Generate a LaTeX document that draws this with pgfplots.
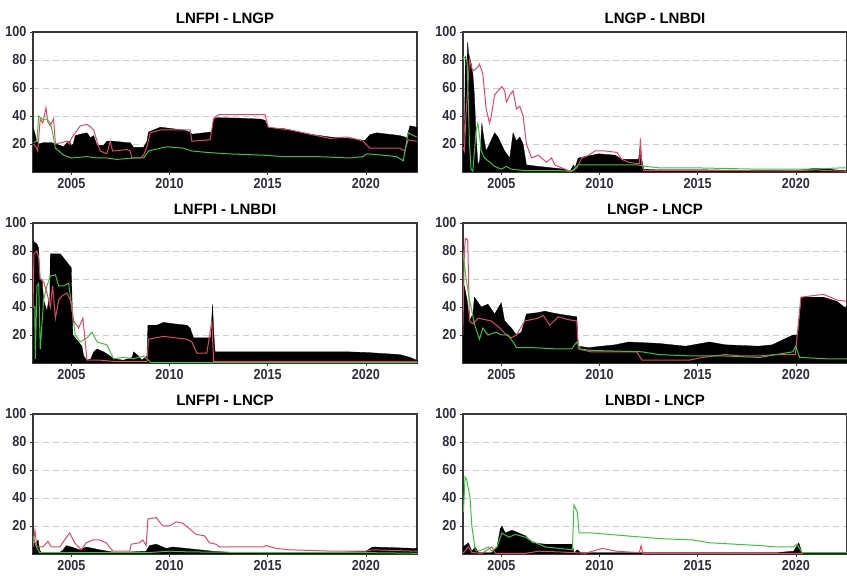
\documentclass[border=0pt]{standalone}
\usepackage{fontspec}
\setmainfont{Liberation Sans}
\newfontfamily\narrowfont[FakeStretch=0.87]{Liberation Sans}
\usepackage{pgfplots}
\pgfplotsset{compat=1.18}
\definecolor{myred}{RGB}{228,70,100}
\definecolor{mygreen}{RGB}{60,195,60}
\definecolor{ticktext}{RGB}{45,45,60}
\pgfplotsset{panel/.style={
  scale only axis, width=384pt, height=140pt,
  xmin=2003.05, xmax=2022.6, ymin=0, ymax=100,
  xtick={2005,2010,2015,2020}, ytick={20,40,60,80,100},
  ymajorgrids, grid style={dash pattern=on 6pt off 4pt, black!20, line width=0.9pt},
  axis line style={line width=1.2pt, black!78},
  tick style={black!78, line width=0.8pt},
  tick align=outside, major tick length=3pt, tick pos=left,
  /pgf/number format/1000 sep={},
  /pgf/number format/assume math mode=true,
  ticklabel style={font=\narrowfont\fontsize{14.5}{16}\selectfont\bfseries, text=ticktext},
  title style={font=\fontsize{15}{17}\selectfont\bfseries, yshift=-1.5pt},
  anchor=south west,
}}
\tikzset{blk/.style={fill=black, draw=black, line width=0.3pt},
         rl/.style={myred, line width=1pt},
         gl/.style={mygreen, line width=1pt}}
\begin{document}
\begin{tikzpicture}
\useasboundingbox (0,0) rectangle (847pt,576pt);
% ---------------- Panel 1
\begin{axis}[panel, at={(33pt,404pt)}, title={LNFPI - LNGP}]
\addplot[blk] coordinates {(2003.05,31)(2003.08,31)(2003.25,22)(2003.34,20)(2003.6,21)(2004.0,21)(2004.2,20)(2004.44,19)(2004.61,18)(2004.78,21)(2004.9,22)(2005.0,19)(2005.1,20)(2005.2,26)(2005.46,27)(2005.8,28)(2005.97,24.5)(2006.14,26)(2006.31,19)(2006.64,19)(2006.81,22)(2007.15,22)(2007.83,21)(2008.0,21)(2008.17,17.6)(2008.68,17.6)(2008.85,22)(2008.93,28.5)(2009.53,32)(2010.12,31)(2010.71,30)(2011.05,28.5)(2011.14,27)(2012.07,28.5)(2012.15,28.5)(2012.24,37.8)(2012.41,38.8)(2013.5,38.5)(2014.61,37.8)(2014.86,37)(2015.03,31.5)(2015.8,31)(2016.14,30)(2017.15,27)(2018.17,25)(2019.19,24)(2019.95,22.5)(2020.2,26.6)(2020.54,28)(2021.73,26)(2021.98,25)(2022.07,24)(2022.24,33)(2022.58,32)(2022.6,32)} \closedcycle;
\addplot[rl] coordinates {(2003.08,20)(2003.2,18)(2003.29,15)(2003.42,38)(2003.55,35)(2003.71,46)(2003.8,36)(2003.93,33)(2004.1,38)(2004.19,20)(2004.5,21)(2004.78,22)(2004.9,20)(2005.0,24)(2005.2,28)(2005.46,33)(2005.8,34)(2006.0,32)(2006.14,30)(2006.31,22)(2006.47,15)(2006.81,13)(2006.98,22)(2007.1,15)(2007.83,16)(2008.0,15)(2008.08,10)(2008.51,10)(2008.68,12)(2008.85,18)(2009.02,28)(2009.53,30)(2010.5,30)(2011.05,30)(2011.14,22)(2012.07,23)(2012.24,38)(2012.49,41)(2014.61,41)(2014.86,41)(2015.03,32)(2016.14,30)(2017.15,27)(2018.17,24)(2019.02,25)(2019.36,24)(2019.86,22)(2020.2,17)(2021.73,17)(2021.98,15)(2022.15,23)(2022.58,22)};
\addplot[gl] coordinates {(2003.08,21)(2003.25,22)(2003.34,40)(2003.59,37)(2003.76,38)(2003.93,35)(2004.02,30)(2004.19,17)(2004.61,12)(2005.0,10)(2005.8,11)(2006.31,10)(2006.81,10)(2007.32,9)(2008.17,10)(2008.68,10)(2008.93,15)(2009.53,17)(2009.86,18)(2010.71,17)(2011.14,15)(2011.9,14)(2012.92,13)(2014.78,12)(2015.8,11)(2017.49,11)(2019.19,10)(2019.86,11)(2020.03,13)(2020.88,12)(2021.56,11)(2021.9,8)(2022.15,28)(2022.58,25)};
\end{axis}
% ---------------- Panel 2
\begin{axis}[panel, at={(463pt,404pt)}, title={LNGP - LNBDI}]
\addplot[blk] coordinates {(2003.04,20)(2003.12,20)(2003.17,83)(2003.24,75)(2003.29,93)(2003.33,85)(2003.46,78)(2003.55,70)(2003.63,55)(2003.72,25)(2003.81,5)(2003.9,8)(2004.01,35)(2004.1,25)(2004.23,15)(2004.4,20)(2004.66,28)(2004.83,25)(2005.0,20)(2005.17,15)(2005.43,10)(2005.6,28)(2005.77,22)(2005.94,25)(2006.11,20)(2006.28,5)(2006.88,4)(2007.56,3)(2008.24,2)(2008.5,0.5)(2008.67,5)(2008.75,3)(2008.92,10)(2009.27,11)(2009.95,13)(2010.8,12)(2011.14,9)(2011.99,9)(2012.08,20)(2012.15,9)(2012.25,2)(2013.0,1.5)(2015.5,1.5)(2018.0,1.2)(2020.0,1)(2020.9,2.5)(2021.5,2.5)(2022.0,1.5)(2022.6,1)} \closedcycle;
\addplot[rl] coordinates {(2003.04,18)(2003.12,15)(2003.2,40)(2003.38,80)(2003.55,72)(2003.81,75)(2003.89,77)(2004.06,70)(2004.23,45)(2004.4,35)(2004.49,40)(2004.66,55)(2004.83,58)(2005.03,61)(2005.17,58)(2005.26,50)(2005.43,55)(2005.6,58)(2005.77,45)(2005.94,47)(2006.11,40)(2006.28,20)(2006.54,10)(2006.88,12)(2007.05,10)(2007.3,7)(2007.56,10)(2007.73,5)(2008.07,3)(2008.41,1)(2008.67,1)(2008.84,3)(2009.1,10)(2009.44,12)(2009.78,15)(2010.29,15)(2010.89,14)(2011.14,9)(2011.48,7)(2011.91,6)(2012.04,6)(2012.08,24)(2012.15,6)(2012.25,1)(2015,1)(2020,0.8)(2021,1.5)(2021.6,1)(2022.6,0.5)};
\addplot[gl] coordinates {(2003.04,80)(2003.09,82)(2003.26,80)(2003.38,20)(2003.46,2)(2003.55,0.5)(2003.72,30)(2003.81,35)(2003.98,15)(2004.15,10)(2004.32,8)(2004.66,4)(2005.0,2)(2005.26,4)(2005.51,2)(2006.19,1)(2007.9,1)(2008.58,0.5)(2008.92,5)(2011.99,5)(2012.34,4)(2013.02,3)(2014.73,3)(2018.14,2)(2019.85,2)(2020.7,2)(2022.41,3)(2022.6,3)};
\end{axis}
% ---------------- Panel 3
\begin{axis}[panel, at={(33pt,213pt)}, title={LNFPI - LNBDI}]
\addplot[blk] coordinates {(2003.05,87)(2003.25,85)(2003.34,82)(2003.39,60)(2003.51,60)(2003.59,45)(2003.76,37)(2003.85,45)(2003.9,35)(2003.93,78)(2004.44,78)(2004.61,75)(2004.78,72)(2005.0,68)(2005.08,20)(2005.37,15)(2005.54,12)(2005.63,5)(2005.8,2)(2006.0,3)(2006.14,8)(2006.31,10)(2006.64,8)(2006.98,5)(2007.15,3)(2007.66,2)(2008.1,4)(2008.17,8)(2008.42,5)(2008.59,2)(2008.85,5)(2008.9,27)(2009.36,27)(2009.69,29)(2010.2,28)(2010.88,27)(2011.05,25)(2011.22,18)(2011.98,18)(2012.1,18)(2012.19,42)(2012.26,20)(2012.32,8)(2019.02,8)(2020.03,7.5)(2021.73,6)(2022.24,4)(2022.58,2)(2022.6,2)} \closedcycle;
\addplot[gl] coordinates {(2003.05,40)(2003.14,40)(2003.17,3)(2003.25,55)(2003.34,57)(2003.42,10)(2003.59,45)(2003.76,55)(2003.93,62)(2004.19,63)(2004.36,55)(2004.61,55)(2004.86,57)(2005.03,40)(2005.2,20)(2005.46,15)(2005.8,18)(2006.05,22)(2006.31,15)(2006.81,13)(2007.15,3)(2007.66,4)(2008.17,3)(2008.68,5)(2008.93,2)(2009.02,0.5)(2022.6,0.5)};
\addplot[rl] coordinates {(2003.05,40)(2003.1,78)(2003.25,80)(2003.34,75)(2003.42,60)(2003.59,58)(2003.76,50)(2003.93,40)(2004.05,55)(2004.19,32)(2004.36,45)(2004.53,48)(2004.78,50)(2004.95,45)(2005.12,30)(2005.37,25)(2005.59,32)(2005.71,15)(2005.8,2)(2006.47,2)(2007.32,1)(2008.85,1)(2008.93,17)(2009.69,19)(2010.88,17)(2011.14,15)(2011.39,7)(2011.9,7)(2012.15,30)(2012.25,1)(2022.6,1)};
\end{axis}
% ---------------- Panel 4
\begin{axis}[panel, at={(463pt,213pt)}, title={LNGP - LNCP}]
\addplot[blk] coordinates {(2003.04,40)(2003.12,55)(2003.26,45)(2003.38,30)(2003.55,35)(2003.63,47)(2003.98,40)(2004.32,42)(2004.66,35)(2005.0,43)(2005.17,30)(2005.51,25)(2005.77,20)(2006.02,22)(2006.28,35)(2006.88,36)(2007.2,37)(2007.9,35)(2008.84,33)(2008.92,12)(2009.44,11)(2010.8,13)(2011.48,15)(2013.0,14)(2014.38,12)(2015.6,15)(2016.4,13)(2018.1,12)(2018.8,13)(2019.85,20)(2020.1,20)(2020.28,47)(2021.4,47)(2022.1,44)(2022.45,40)(2022.6,40)} \closedcycle;
\addplot[rl] coordinates {(2003.04,20)(2003.12,80)(2003.17,89)(2003.29,88)(2003.38,30)(2003.55,28)(2003.81,32)(2004.49,30)(2004.92,25)(2005.26,20)(2005.51,18)(2005.77,20)(2006.19,30)(2006.88,32)(2007.13,34)(2007.47,27)(2007.9,33)(2008.41,31)(2008.84,30)(2008.92,10)(2009.56,8)(2010.58,8)(2011.9,8)(2012.16,2)(2014.55,2)(2015.23,4)(2016.4,6)(2017.25,5)(2018.1,5)(2018.95,6)(2019.97,6)(2020.25,47)(2021.4,49)(2022.1,45)(2022.6,44)};
\addplot[gl] coordinates {(2003.04,80)(2003.21,60)(2003.38,45)(2003.46,40)(2003.63,28)(2003.89,17)(2004.06,25)(2004.32,20)(2004.74,22)(2005.0,20)(2005.34,20)(2005.6,15)(2005.77,11)(2006.54,11)(2007.9,10)(2008.58,10)(2008.84,15)(2009.02,10)(2009.56,9)(2012.16,8)(2013.02,6)(2014.73,5)(2016.43,5)(2018.14,4)(2018.99,6)(2019.85,8)(2019.98,12)(2020.19,4)(2021.55,3)(2022.6,3)};
\end{axis}
% ---------------- Panel 5
\begin{axis}[panel, at={(33pt,22pt)}, title={LNFPI - LNCP}]
\addplot[blk] coordinates {(2003.05,8)(2003.22,8)(2003.31,10)(2003.39,3)(2003.47,1)(2004.41,1)(2004.58,3)(2004.75,6)(2005.0,5)(2005.42,3)(2005.76,5)(2006.44,3)(2007.29,1)(2008.81,2)(2008.98,6)(2009.32,7)(2009.83,4)(2010.17,5)(2010.85,4)(2012.2,2)(2013.22,1)(2018.31,1)(2020.0,2)(2020.34,5)(2022.54,4)(2022.6,4)} \closedcycle;
\addplot[rl] coordinates {(2003.05,5)(2003.15,17)(2003.25,5)(2003.56,5)(2003.81,9)(2003.98,5)(2004.41,5)(2004.75,12)(2004.92,15)(2005.17,8)(2005.51,3)(2005.76,8)(2006.1,10)(2006.44,10)(2006.78,8)(2007.12,2)(2007.97,2)(2008.05,7)(2008.47,8)(2008.64,10)(2008.81,6)(2008.9,25)(2009.32,26)(2009.66,20)(2010.0,20)(2010.34,23)(2010.68,22)(2011.02,18)(2011.36,14)(2011.78,13)(2012.03,8)(2012.37,7)(2012.54,5)(2014.75,5)(2014.92,6)(2015.42,4)(2016.1,3)(2018.31,2)(2020.0,2)(2020.34,3)(2022.54,2)(2022.6,2)};
\addplot[gl] coordinates {(2003.05,13)(2003.22,5)(2003.39,1)(2004.75,1)(2008.9,1)(2010.0,2)(2011.0,1.5)(2015.0,1)(2020.0,1)(2022.6,0.5)};
\end{axis}
% ---------------- Panel 6
\begin{axis}[panel, at={(463pt,22pt)}, title={LNBDI - LNCP}]
\addplot[blk] coordinates {(2003.05,5)(2003.33,8)(2003.5,2)(2003.67,5)(2003.84,1)(2004.52,1)(2004.78,5)(2004.95,18)(2005.03,20)(2005.2,15)(2005.55,17)(2005.89,15)(2006.23,13)(2006.57,8)(2007.25,7)(2007.94,7)(2008.62,7)(2008.7,0.5)(2008.87,3)(2009.04,1)(2019.03,1)(2019.88,2)(2020.14,8)(2020.31,1)(2022.6,1)} \closedcycle;
\addplot[rl] coordinates {(2003.05,0.5)(2003.33,5)(2003.5,1)(2004.01,0.5)(2004.52,5)(2004.69,0.5)(2006.23,0.5)(2006.91,2)(2007.94,1.5)(2009.3,0.5)(2009.64,2)(2010.15,4)(2010.84,2)(2012.03,1)(2012.12,6)(2012.2,0.5)(2020.31,0.5)(2020.4,1)(2022.6,1)};
\addplot[gl] coordinates {(2003.07,30)(2003.16,55)(2003.24,53)(2003.41,40)(2003.5,20)(2003.67,3)(2003.84,2)(2004.18,4)(2004.35,5)(2004.52,2)(2004.78,5)(2005.03,15)(2005.38,12)(2005.72,14)(2006.23,12)(2006.57,9)(2007.25,5)(2007.94,4)(2008.62,3)(2008.7,35)(2008.87,30)(2008.96,15)(2009.64,15)(2011.35,13)(2013.05,11)(2014.76,10)(2015.61,8)(2018.17,6)(2019.03,5)(2019.88,5)(2020.05,7)(2020.31,1)(2022.6,1)};
\end{axis}
\end{tikzpicture}
\end{document}
